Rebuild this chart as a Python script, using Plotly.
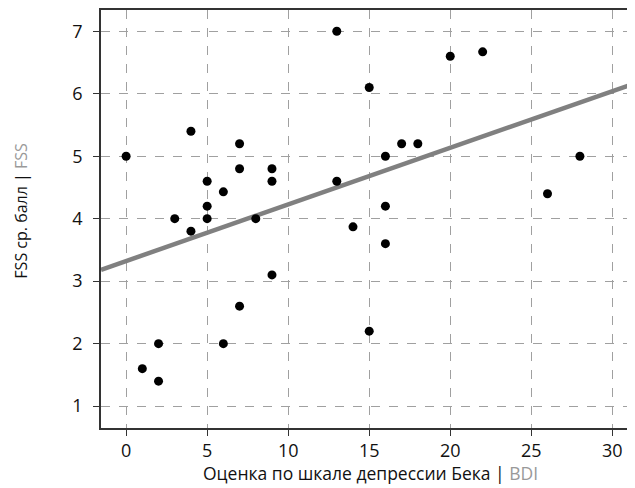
import numpy as np
import plotly.graph_objects as go

bdi = [0, 1, 2, 2, 3, 4, 4, 5, 5, 5, 6, 6, 7, 7, 7, 8, 9, 9, 9,
       13, 13, 14, 15, 15, 16, 16, 16, 17, 18, 20, 22, 26, 28]
fss = [5.0, 1.6, 2.0, 1.4, 4.0, 5.4, 3.8, 4.6, 4.2, 4.0, 4.43, 2.0, 5.2, 4.8, 2.6, 4.0, 4.8, 4.6, 3.1,
       7.0, 4.6, 3.87, 6.1, 2.2, 5.0, 4.2, 3.6, 5.2, 5.2, 6.6, 6.67, 4.4, 5.0]
x_ticks = [0, 5, 10, 15, 20, 25, 30]
y_ticks = [1, 2, 3, 4, 5, 6, 7]
x_title = 'Оценка по шкале депрессии Бека | <span style="color:#999">BDI</span>'
y_title = 'FSS ср. балл | <span style="color:#999">FSS</span>'

x_range = [-1.55, 31.4]
slope, intercept = np.polyfit(bdi, fss, 1)
trend_x = np.array(x_range)
trend_y = intercept + slope * trend_x

font_family = "Open Sans, Noto Sans, sans-serif"

fig = go.Figure()
fig.add_trace(go.Scatter(x=trend_x, y=trend_y, mode="lines",
                         line=dict(color="#808080", width=4.5), hoverinfo="skip",
                         showlegend=False))
fig.add_trace(go.Scatter(x=bdi, y=fss, mode="markers",
                         marker=dict(color="black", size=9), showlegend=False))

axis_common = dict(automargin=False, showline=True, linecolor="#333", linewidth=1.5,
                   ticks="outside", ticklen=6, tickcolor="#333",
                   showgrid=True, gridcolor="#a0a0a0", griddash="dash", gridwidth=1,
                   zeroline=False)

fig.update_layout(
    width=627, height=480,
    margin=dict(l=93, r=0, t=2, b=60, autoexpand=False),
    plot_bgcolor="white", paper_bgcolor="white",
    font=dict(family=font_family, size=18, color="#111"),
    xaxis=dict(range=x_range, tickvals=x_ticks, mirror=True, ticklabelstandoff=0,
               **axis_common),
    yaxis=dict(range=[0.65, 7.34], tickvals=y_ticks, mirror=False, ticklabelstandoff=7,
               **axis_common),
)
fig.add_annotation(text=x_title, xref="paper", yref="paper", x=0.504, y=0,
                   yshift=-45, xanchor="center", yanchor="middle", showarrow=False,
                   font=dict(size=17.5))
fig.add_annotation(text=y_title, xref="paper", yref="paper", x=0, y=0.52,
                   xshift=-80, xanchor="center", yanchor="middle", showarrow=False,
                   textangle=-90, font=dict(size=16))

fig.write_html("out.html")
